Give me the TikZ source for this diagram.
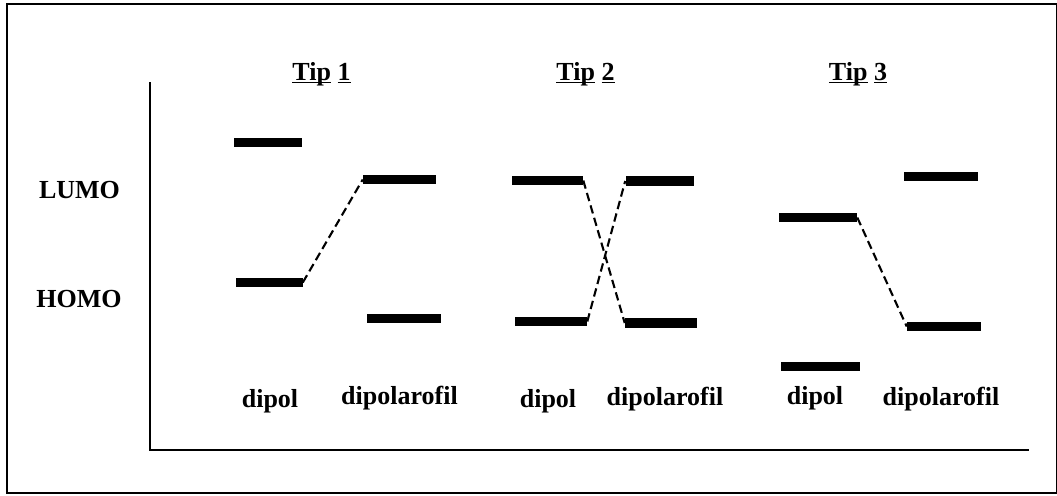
\documentclass[tikz,border=0pt]{standalone}
\usepackage{fontspec}
\setmainfont{Liberation Serif}

% underline that sits just under the baseline
\newcommand\ulined[1]{\setbox0\hbox{#1}\rlap{\rule[-2.2pt]{\wd0}{1pt}}\box0\relax}

\tikzset{
  level/.style={fill=black, inner sep=0pt, minimum height=0.235cm},
  lbl/.style={font=\fontsize{18.5}{22}\selectfont\bfseries, inner sep=0pt, anchor=base},
  link/.style={line width=1.5pt, dash pattern=on 6pt off 3.2pt},
  axis/.style={line width=1.4pt}
}

\begin{document}
\begin{tikzpicture}[x=0.025cm, y=-0.025cm]
  \useasboundingbox (0,0) rectangle (1057,495);
  \draw[line width=1.4pt] (7,4) rectangle (1057,493);

  % axes
  \coordinate (top) at (150,82);
  \coordinate (origin) at (150,450);
  \coordinate (right) at (1029,450);
  \draw[axis] (top) -- (origin) -- (right);

  \node[lbl] (lumo) at (79.5,198) {LUMO};
  \node[lbl] (homo) at (79,307) {HOMO};

  \node[lbl] (tip1) at (321.5,80) {\ulined{Tip} \ulined{1}};
  \node[lbl] (tip2) at (585.5,80) {\ulined{Tip} \ulined{2}};
  \node[lbl] (tip3) at (858,80) {\ulined{Tip} \ulined{3}};

  % energy levels: name/x/width/y
  \foreach \n/\x/\w/\y in {d1lumo/268/68/142.5, d1homo/269/67/282.5,
      f1lumo/399.5/73/179.5, f1homo/404/74/318.5,
      d2lumo/547.5/71/180.5, d2homo/551/72/321.5,
      f2lumo/659.5/68/181, f2homo/661/72/323,
      d3lumo/818/78/217.5, d3homo/820.5/79/366.5,
      f3lumo/941/74/176.5, f3homo/944/74/326.5} {
    \node[level, minimum width=\w*0.025cm] (\n) at (\x,\y) {};
  }

  \draw[link] (d1homo.east) -- (f1lumo.west);
  \draw[link] (d2lumo.east) -- (f2homo.west);
  \draw[link] (d2homo.east) -- (f2lumo.west);
  \draw[link] (d3lumo.east) -- (f3homo.west);

  \node[lbl] (dip1) at (270,407.5) {dipol};
  \node[lbl] (dpf1) at (399.5,404.5) {dipolarofil};
  \node[lbl] (dip2) at (548,407) {dipol};
  \node[lbl] (dpf2) at (665,405) {dipolarofil};
  \node[lbl] (dip3) at (815,404) {dipol};
  \node[lbl] (dpf3) at (941,405) {dipolarofil};
\end{tikzpicture}
\end{document}
